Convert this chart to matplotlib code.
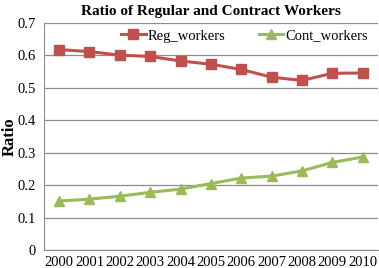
import matplotlib
matplotlib.use("Agg")
import matplotlib.pyplot as plt

years = ["2000", "2001", "2002", "2003", "2004", "2005", "2006", "2007", "2008", "2009", "2010"]
reg_workers = [0.618, 0.612, 0.601, 0.597, 0.583, 0.573, 0.557, 0.533, 0.523, 0.545, 0.546]
cont_workers = [0.151, 0.157, 0.166, 0.178, 0.188, 0.205, 0.222, 0.228, 0.244, 0.270, 0.287]
yticks = [0, 0.1, 0.2, 0.3, 0.4, 0.5, 0.6, 0.7]
ytick_labels = ["0", "0.1", "0.2", "0.3", "0.4", "0.5", "0.6", "0.7"]

plt.rcParams['font.family'] = ['Liberation Serif', 'DejaVu Serif']

fig = plt.figure(figsize=(3.79, 2.68), dpi=100)
ax = fig.add_axes([0.116, 0.067, 0.881, 0.847])

x = list(range(len(years)))
ax.plot(x, reg_workers, color="#C0504D", marker="s", markersize=7, linewidth=2.2, label="Reg_workers")
ax.plot(x, cont_workers, color="#9BBB59", marker="^", markersize=7, linewidth=2.2, label="Cont_workers")

ax.set_xlim(-0.5, len(years) - 0.5)
ax.set_ylim(0, 0.7)
ax.set_yticks(yticks)
ax.set_yticklabels(ytick_labels)
ax.set_xticks(x)
ax.set_xticklabels(years)
ax.tick_params(axis="x", length=0, labelsize=10.5, pad=4)
ax.tick_params(axis="y", length=0, labelsize=10.5, pad=6)
ax.grid(axis="y", color="#8C8C8C", linewidth=0.9)
ax.set_axisbelow(True)
for s in ["top", "right"]:
    ax.spines[s].set_visible(False)
for s in ["left", "bottom"]:
    ax.spines[s].set_color("#8C8C8C")

ax.set_ylabel("Ratio", fontsize=12, fontweight="bold")
ax.yaxis.set_label_coords(-0.078, 0.5)
ax.set_title("Ratio of Regular and Contract Workers", fontsize=11, fontweight="bold", pad=6)
ax.legend(loc="upper center", ncol=2, frameon=False, fontsize=10.5, handlelength=1.7,
          handletextpad=0.1, columnspacing=2.3, bbox_to_anchor=(0.6, 1.03))

fig.savefig("out.png", dpi=100)
